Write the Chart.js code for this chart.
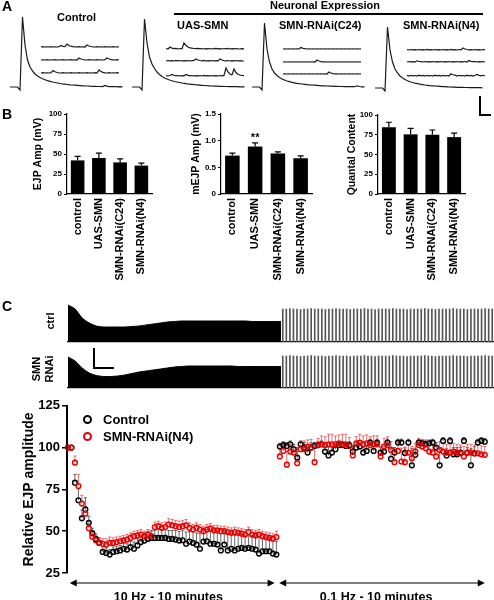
<!DOCTYPE html>
<html>
<head>
<meta charset="utf-8">
<script src="https://cdn.jsdelivr.net/npm/chart.js@4.4.1/dist/chart.umd.min.js"></script>
<style>
  body { margin: 0; background: #fff; }
  #fig { position: relative; width: 494px; height: 600px; overflow: hidden;
         font-family: "Liberation Sans", Arial, sans-serif; font-weight: bold; color: #000; }
  #fig canvas, .t, .ln, .dot { position: absolute; }
  .t { white-space: nowrap; line-height: 1; }
  .ln { background: #000; }
  .dot { width: 9px; height: 9px; box-sizing: border-box; border: 2px solid #000; border-radius: 50%; }
</style>
</head>
<body>
<div id="fig">
  <div class="t" style="left:2px;top:-1px;font-size:14px">A</div>
  <div class="t" style="left:57px;top:12px;font-size:11px">Control</div>
  <div class="t" style="left:270px;top:0px;font-size:11px">Neuronal Expression</div>
  <div class="ln" style="left:174px;top:13px;width:309px;height:2px"></div>
  <div class="t" style="left:177px;top:20px;font-size:11px">UAS-SMN</div>
  <div class="t" style="left:279px;top:20px;font-size:11px">SMN-RNAi(C24)</div>
  <div class="t" style="left:403px;top:20px;font-size:11px">SMN-RNAi(N4)</div>
  <div class="ln" style="left:479px;top:96px;width:1.5px;height:19px"></div>
  <div class="ln" style="left:479px;top:114px;width:12px;height:1.5px"></div>

  <div class="t" style="left:2px;top:107px;font-size:14px">B</div>
  <div class="t" style="left:2px;top:299px;font-size:14px">C</div>
  <div class="ln" style="left:93px;top:348px;width:1.5px;height:20px"></div>
  <div class="ln" style="left:93px;top:367px;width:21px;height:1.5px"></div>

  <div class="dot" style="left:82.5px;top:414.5px"></div>
  <div class="t" style="left:103px;top:412.5px;font-size:13px">Control</div>
  <div class="dot" style="left:82.5px;top:431.5px;border-color:#e60000"></div>
  <div class="t" style="left:103px;top:429.5px;font-size:13px">SMN-RNAi(N4)</div>
</div>
<script>
// ---- A: example traces (baseline = 0, roughly px) ----
const ejpControl = [0,0,0,0,-3,70,42,27,20,16,13,11,9.5,8.2,7.2,6.4,5.7,5,4.5,4,3.5,3.1,2.8,2.5,2.2,2,1.8,1.6,1.4,1.2,1,1,0.8,0.7,0.6,0.5,0.5,0.4,1.5,0.6,0.3,0.3,0.5,0.2,0.3,0.2];
const ejpUas = [0,0,0,0,-3,68,44,30,23,18.5,15,12.5,10.5,9,8,7,6.2,5.5,5,4.5,4,3.6,3.2,2.9,2.6,2.3,2.1,1.9,1.7,1.5,1.3,1.2,1,0.9,0.8,0.7,0.6,0.5,0.5,0.4,0.4,0.3,0.3,0.2,0.2,0.2];
const ejpC24 = [0,0,0,0,-3,64,38,25,18,14,11.5,9.5,8,7,6,5.3,4.7,4.2,3.7,3.3,3,2.7,2.4,2.2,2,1.8,1.6,1.4,1.2,1.1,1,0.9,0.8,0.7,0.6,0.5,0.5,0.4,0.4,0.3,0.3,0.3,1.2,0.5,0.2,0.2];
const ejpN4 = [0,0,0,0,-3,61,38,26,19,15,12,10,8.5,7.3,6.3,5.5,4.8,4.3,3.8,3.4,3,2.7,2.4,2.2,2,1.8,1.6,1.4,1.3,1.2,1,0.9,0.8,0.7,0.6,0.6,0.5,0.5,0.4,0.4,0.3,0.3,0.3,0.2];

const minisControl = [
  [0,0.3,0,0.2,0,0.3,0,0.2,0,0.3,1.5,0.6,0.3,3,1.5,0.8,0.4,0.2,0,0.3,0,0.2,0,2,1,0.5,0.2,0,0.3,0,0.2,0,0.3,0,0.2,0,0.3,0,0.2,0],
  [0,0.2,0,0.3,0,0.2,0,0.3,0,0.2,0,0.3,0,0.2,0,0.3,0,0.2,0,2,1,0.5,0.2,0,0.3,0,0.2,0,0.3,0,0.2,0,0.3,2,1,0.4,0.2,0,0.3,0],
  [0,0.3,0,0.2,0,0.3,2.5,1.2,0.5,0.2,0,0.3,0,0.2,0,0.3,0,0.2,0,0.3,0,0.2,0,0.3,0,0.2,0,0.3,0,3,1.4,0.6,0.2,0,0.3,0,0.2,0,0.3,0]
];
const minisUas = [
  [0.5,0,2,0.8,0.3,0.6,0,0.5,0.2,6,3.5,2,1.2,0.8,0.5,0.3,0.6,0.2,0.5,0,0.4,0.1,0.5,0,0.3,0.6,0.1,0.4,0,0.5,0.2,0.6,0,0.4,0.1,0.5,0.2,0,0.4,0.1],
  [0,0.5,0.1,0.4,0,0.6,0.2,0.5,0,0.4,0.1,0.5,0,0.3,0.6,2,1,0.5,0.2,0.6,0,0.4,0.1,0.5,0,0.3,0.1,2,1,0.4,0.1,0.5,0,0.4,0.2,0.5,0,0.3,0.1,0],
  [0.3,0,0.5,1.5,0.7,0.2,0.5,0,0.4,0.2,1.5,0.6,0.2,0.5,0,0.4,0.1,0.5,0,0.6,0.2,0.4,0,0.5,0.1,0.4,0,0.5,0.2,0.6,8,4,2,1,7,3.5,1.8,1,0.5,0.3]
];
const minisC24 = [
  [0,0.2,0,0.2,0,0.2,0,0.2,0,1.5,0.7,0.3,0,0.2,0,0.2,0,0.2,0,0.2,0,0.2,0,0.2,0,0.2,0,0.2,0,0.2,0,0.2,0,0.2,0,0.2,0,0.2,0,0.2],
  [0,0.2,0,0.2,0,0.2,0,0.2,0,0.2,0,0.2,0,0.2,0,0.2,0,2,1,0.4,0.1,0.2,0,0.2,0,0.2,0,0.2,0,0.2,0,0.2,0,0.2,0,0.2,0,0.2,0,0.2],
  [0,0.2,0,0.2,0,0.2,0,0.2,0,0.2,0,0.2,0,0.2,0,0.2,0,0.2,0,0.2,0,0.2,0,2,1,0.4,0.1,0.2,0,0.2,0,0.2,0,0.2,0,0.2,0,0.2,0,0.2]
];
const minisN4 = [
  [0.4,0,0.5,0.1,0.4,0,0.5,0.2,0.4,0,0.6,0.1,0.4,0,0.5,0.2,0.4,0,0.5,0.1,0.4,0,0.6,0.2,0.4,0,0.5,0.1,2,1,0.5,0.1,0.4,0,0.5,0.2,0.4,0,0.5,0.1],
  [0,0.5,0.1,0.4,0,1.2,0.5,0.4,0,0.5,0.1,0.4,0.2,0.5,0,0.4,0.1,0.5,0,0.4,0.2,0.5,0,0.4,0.1,0.5,0,0.4,0.2,0.5,0,1.5,0.6,0.3,0.5,0,0.4,0.1,0.5,0],
  [0.6,0,0.7,0.2,0.5,0,0.8,0.1,0.6,0,0.7,0.2,0.5,0,0.8,0.1,0.6,0,0.7,0.2,0.5,0,2.2,1.2,0.8,0,0.7,0.2,0.5,0,0.8,0.1,0.6,0,0.7,1.5,0.6,0.1,0.7,0]
];

// ---- B: bar summaries ----
const groups = ['control', 'UAS-SMN', 'SMN-RNAi(C24)', 'SMN-RNAi(N4)'];
const ejpAmp = [42, 45, 39.5, 35.5];
const ejpAmpErr = [5, 6, 4.5, 3.2];
const mejpAmp = [0.72, 0.89, 0.76, 0.67];
const mejpAmpErr = [0.045, 0.07, 0.03, 0.045];
const mejpMarks = ['', '**', '', ''];
const quantal = [84.5, 75.5, 75, 72];
const quantalErr = [6.3, 7.6, 6, 5];

// ---- C: raw recordings (10 Hz envelope every 20 s, then one EJP per 10 s) ----
const ctrlEnv = [37,33,24,19,16,15,15,15,15,15.5,16,17,18,19,20,20.5,21,21,21,21,21,21,21,21,21,21,20.5,20.5,20.5,20.5,20.5];
const smnEnv = [31,27,20,15,12.5,11.5,11.5,12,13,14.5,16,17,18,19,20,21,21.5,22,22,22,22,22,22,22,21.5,21.5,21.5,21.5,21.5,21.5,21.5];
const ctrlSpikes = [33,33,33.5,33,33,32.5,33,33,33.5,33,33,33,32.5,33,33,33.5,33,33,33,32.5,33,33,33,33.5,33,33,32.5,33,33,33,33,33.5,33,33,33,32.5,33,33,33,33,33.5,33,33,32.5,33,33,33,33,33.5,33,33,33,32.5,33,33,33,33,33.5,33,33];
const smnSpikes = [32,32,32.5,32,32,31.5,32,32,32.5,32,32,32,31.5,32,32,32.5,32,32,32,31.5,32,32,32,32.5,32,32,31.5,32,32,32,32,32.5,32,32,32,31.5,32,32,32,32,32.5,32,32,31.5,32,32,32,32,32.5,32,32,32,31.5,32,32,32,32,32.5,32,32];

// ---- C: relative EJP amplitude, 10 Hz (every 10 s, 0..600 s) then 0.1 Hz ----
const ctrlFast = [100,100,79,68.5,57.7,63,55,48.8,45.4,43,37.6,37,36,37.6,38,38.5,39.5,39,40.5,39.5,41.5,43.5,44.4,45.4,46,46,46,46,46,45.4,45.4,45,44.4,44.6,42.5,43.8,43,42,39.5,43.8,44,42.5,42.5,42,38.5,42,38.5,39.5,38.5,39.5,40,39.5,40,39.5,39,36.6,38,38,38,36.6,36];
const ctrlFastErr = [0,0,5,7,5,7,4,3,3,3,3,3,3,3,3,3,3.5,3.5,3.5,4,4,4,4.5,4.5,4.5,4.5,5,5,5,5,5,5.5,5.5,6,7,6,7,7,9,7,7,8,8,8,10,8,10,9,9,9,8,8,8,8,8,10,8,8,8,8,8];
const smnFast = [100,100,91,77,66.5,60.5,51.7,46.7,44.6,43,42.5,42,43,43,43.5,44,44.5,45,46,47,47.5,48,47,48,47,52.5,53,52,52.5,54,53.5,53,52.5,53,53.5,52,51,52,51,50,51,51.5,50.5,50.5,50,50,49.5,49,49.5,49,48.5,48,49.5,48,47.5,48,47,46.5,46,45.5,46.5];
const smnFastErr = [0,0,4,7,5,4,3,2.5,3,3,3,3.5,3.5,3,3,3,3,3,3,3,3,3,3,3,3,3,3,3,3,3.5,3.5,3.5,3.5,3.5,3.5,3,3,3,3,3,3,3,3,3,3,3,3,3,3,3,3,3,3,3,3,3,3,3,3,3,3.5];
const ctrlSlow = [100.6,101.5,101,102,99,94,102,100,97,100,101,101.5,102,97.6,95.3,97,99,101.5,101.5,101,101.5,97.6,100,100.6,97,98,103,98,103,97,97.6,103,93.3,97,103,103,96.8,103,89.4,95.7,103,102.6,102,102.6,103,100,89.4,104,95.3,104,96,96,97,104,97,89.4,96.6,103,104,103.5];
const ctrlSlowErr = [2,2,2,2,3,6,2,3,3,3,2,2,2,3,5,3,3,2,2,2,2,3,3,2,3,3,2,3,2,3,3,2,6,3,2,2,3,2,10,4,2,2,2,2,2,3,10,2,4,2,4,4,3,2,3,10,4,2,2,2];
const smnSlow = [94.7,98,89.8,97.6,97,90.7,99,99,100.6,100,91.3,101.5,102,101.5,102,102,102,102.6,102,102,101,95.3,102.6,103,102,102.6,101.5,102,102,94.7,100.6,101.5,98.6,91.3,98,91.7,91.3,97,93.7,97.6,101.5,100.6,99.6,97.6,97,94.7,98.6,97.6,97,97,97.6,97,96.6,94.7,97,97,96.6,96.6,96,95.7];
const smnSlowErr = [5,4,8,4,5,7,4,5,4,5,9,4,5,5,6,6,5,5,6,6,5,6,4,5,5,5,5,5,5,6,5,5,5,8,5,8,9,5,7,5,4,4,5,5,5,6,5,5,5,5,5,5,5,6,5,5,5,5,5,5];
const periodLabels = ['10 Hz - 10 minutes', '0.1 Hz - 10 minutes'];
const periodTicks = [289, 887];
const periodRanges = [[5, 595], [608, 1200]];

Chart.defaults.font.family = '"Liberation Sans", Arial, sans-serif';
Chart.defaults.font.weight = 'bold';
Chart.defaults.color = '#000';
Chart.defaults.animation = false;
Chart.defaults.events = [];
Chart.defaults.plugins.legend.display = false;
Chart.defaults.plugins.tooltip.enabled = false;

const fig = document.getElementById('fig');
function makeCanvas(left, top, w, h) {
  const c = document.createElement('canvas');
  c.width = w; c.height = h;
  c.style.left = left + 'px'; c.style.top = top + 'px';
  c.style.width = w + 'px'; c.style.height = h + 'px';
  fig.insertBefore(c, fig.firstChild);
  return c;
}

function drawErrors(chart, phase) {
  const ctx = chart.ctx;
  chart.data.datasets.forEach((ds, di) => {
    if (!ds.errors || (ds.errorPhase || 'after') !== phase) return;
    const meta = chart.getDatasetMeta(di);
    const ys = chart.scales[meta.yAxisID];
    ctx.save();
    ctx.strokeStyle = ds.errorColor || '#000';
    ctx.lineWidth = ds.errorWidth || 1;
    meta.data.forEach((el, i) => {
      const e = ds.errors[i];
      if (!e) return;
      const v = meta.controller.getParsed(i).y;
      const x = el.x;
      const y0 = ys.getPixelForValue(v), y1 = ys.getPixelForValue(v + e);
      ctx.beginPath();
      ctx.moveTo(x, y0); ctx.lineTo(x, y1);
      ctx.moveTo(x - ds.errorCap, y1); ctx.lineTo(x + ds.errorCap, y1);
      ctx.stroke();
      if (ds.marks && ds.marks[i]) {
        ctx.fillStyle = '#000';
        ctx.font = 'bold 11px "Liberation Sans", Arial, sans-serif';
        ctx.textAlign = 'center';
        ctx.fillText(ds.marks[i], x, y1 - 2);
      }
    });
    ctx.restore();
  });
}
const errorBars = {
  id: 'errorBars',
  beforeDatasetsDraw(chart) { drawErrors(chart, 'before'); },
  afterDatasetsDraw(chart) { drawErrors(chart, 'after'); }
};

// ---- panel A ----
const aLayout = [
  { left: 8,   width: 120, ejpX: 10,  base: 87, miniX: 41,  miniBase: [47, 60, 73] },
  { left: 130, width: 120, ejpX: 132, base: 87, miniX: 166, miniBase: [49, 61, 76] },
  { left: 250, width: 120, ejpX: 252, base: 87, miniX: 283, miniBase: [49, 62, 74] },
  { left: 373, width: 121, ejpX: 375, base: 88, miniX: 407, miniBase: [50, 62, 76] }
];
const aEjps = [ejpControl, ejpUas, ejpC24, ejpN4];
const aMinis = [minisControl, minisUas, minisC24, minisN4];
const aTop = 10, aH = 84;

aLayout.forEach((p, g) => {
  const c = makeCanvas(p.left, aTop, p.width, aH);
  const line = { showLine: true, pointRadius: 0, borderColor: '#1a1a1a', borderWidth: 1.2, clip: false };
  const datasets = [Object.assign({ data: aEjps[g].map((v, i) => ({ x: i, y: v })), xAxisID: 'x', yAxisID: 'y' }, line)];
  const scales = {
    x: { type: 'linear', display: false, min: -(p.ejpX - p.left) / 2.5, max: -(p.ejpX - p.left) / 2.5 + p.width / 2.5 },
    xm: { type: 'linear', axis: 'x', display: false, min: -(p.miniX - p.left) / 2, max: -(p.miniX - p.left) / 2 + p.width / 2 },
    y: { type: 'linear', display: false, max: p.base - aTop, min: p.base - aTop - aH }
  };
  aMinis[g].forEach((m, j) => {
    const id = 'y' + (j + 1);
    datasets.push(Object.assign({ data: m.map((v, i) => ({ x: i, y: v })), xAxisID: 'xm', yAxisID: id }, line));
    scales[id] = { type: 'linear', axis: 'y', display: false, max: p.miniBase[j] - aTop, min: p.miniBase[j] - aTop - aH };
  });
  new Chart(c, { type: 'scatter', data: { datasets }, options: { responsive: false, layout: { padding: 0 }, scales } });
});

// ---- panel B ----
function barChart(left, top, w, h, pad, yWidth, xHeight, titleOffset, title, values, errors, yMax, yStep, marks) {
  const c = makeCanvas(left, top, w, h);
  new Chart(c, {
    type: 'bar',
    data: {
      labels: groups,
      datasets: [{
        data: values, backgroundColor: '#000', barPercentage: 0.64, categoryPercentage: 1,
        errors: errors, errorCap: 3, errorWidth: 1.2, marks: marks
      }]
    },
    options: {
      responsive: false,
      layout: { padding: { top: pad.top, right: pad.right, left: 0, bottom: 0 } },
      scales: {
        x: {
          grid: { display: false, drawTicks: false },
          border: { color: '#000', width: 1.2 },
          ticks: { font: { size: 11, weight: 'bold' }, maxRotation: 90, minRotation: 90, padding: 4, autoSkip: false },
          afterFit: (s) => { s.height = xHeight; }
        },
        y: {
          min: 0, max: yMax,
          ticks: { stepSize: yStep, font: { size: 8, weight: 'bold' }, padding: 2 },
          grid: { drawOnChartArea: false, tickLength: 3, color: '#000' },
          border: { color: '#000', width: 1.2 },
          title: { display: true, text: title, font: { size: 10.5, weight: 'bold' }, padding: { top: titleOffset, bottom: 0 } },
          afterFit: (s) => { s.width = yWidth; }
        }
      }
    },
    plugins: [errorBars]
  });
}
barChart(0, 104, 160, 196, { top: 10, right: 8 }, 67, 106, 31.7, 'EJP Amp (mV)', ejpAmp, ejpAmpErr, 100, 25);
barChart(160, 104, 160, 196, { top: 10, right: 8 }, 61, 106, 29.7, 'mEJP Amp (mV)', mejpAmp, mejpAmpErr, 1.5, 0.5, mejpMarks);
barChart(320, 104, 174, 196, { top: 11, right: 29 }, 58, 106, 26.2, 'Quantal Content', quantal, quantalErr, 100, 25);

// ---- panel C raw traces ----
function rawTrace(top, h, yMax, env, spikes, title, titlePad) {
  const c = makeCanvas(0, top, 494, h);
  new Chart(c, {
    type: 'bar',
    data: {
      datasets: [
        { type: 'line', data: env.map((v, i) => ({ x: i * 20, y: v })), borderColor: '#000', borderWidth: 1,
          backgroundColor: '#000', fill: 'origin', pointRadius: 0, tension: 0.3 },
        { data: spikes.map((v, i) => ({ x: 605 + i * 10, y: v })), backgroundColor: '#555', barThickness: 1 }
      ]
    },
    options: {
      responsive: false,
      layout: { padding: 0 },
      scales: {
        x: { type: 'linear', min: 0, max: 1200, offset: false,
             grid: { display: false, drawTicks: false }, ticks: { display: false },
             border: { display: true, color: '#000', width: 1.2 },
             afterFit: (s) => { s.height = 2; } },
        y: { min: 0, max: yMax, grid: { display: false, drawTicks: false }, ticks: { display: false },
             border: { display: false },
             title: { display: true, text: title, font: { size: 11, weight: 'bold' }, padding: { top: titlePad, bottom: 0 } },
             afterFit: (s) => { s.width = 68; } }
      }
    }
  });
}
rawTrace(300, 44, 42, ctrlEnv, ctrlSpikes, 'ctrl', 44.4);
rawTrace(350, 40, 38, smnEnv, smnSpikes, ['SMN', 'RNAi'], 30.4);

// ---- panel C summary ----
const arrows = {
  id: 'arrows',
  afterDraw(chart) {
    const ctx = chart.ctx, xs = chart.scales.x;
    const y = chart.chartArea.bottom + 10;
    ctx.save();
    ctx.strokeStyle = '#000'; ctx.fillStyle = '#000'; ctx.lineWidth = 1.2;
    periodRanges.forEach(([a, b]) => {
      const x0 = xs.getPixelForValue(a), x1 = xs.getPixelForValue(b);
      ctx.beginPath(); ctx.moveTo(x0 + 2, y); ctx.lineTo(x1 - 2, y); ctx.stroke();
      ctx.beginPath(); ctx.moveTo(x0, y); ctx.lineTo(x0 + 7, y - 3.5); ctx.lineTo(x0 + 7, y + 3.5); ctx.closePath(); ctx.fill();
      ctx.beginPath(); ctx.moveTo(x1, y); ctx.lineTo(x1 - 7, y - 3.5); ctx.lineTo(x1 - 7, y + 3.5); ctx.closePath(); ctx.fill();
    });
    ctx.restore();
  }
};
function series(fast, slow) {
  return fast.map((v, i) => ({ x: i * 10, y: v })).concat(slow.map((v, k) => ({ x: 610 + k * 10, y: v })));
}
const mainCanvas = makeCanvas(0, 396, 494, 204);
new Chart(mainCanvas, {
  type: 'scatter',
  data: {
    datasets: [
      { label: 'Control', data: series(ctrlFast, ctrlSlow), order: 2,
        pointRadius: 2.4, pointBorderWidth: 1.4, borderColor: '#000', backgroundColor: 'rgba(0,0,0,0)', clip: false,
        errors: ctrlFastErr.concat(ctrlSlowErr), errorPhase: 'before', errorCap: 1.6, errorWidth: 0.8, errorColor: '#444' },
      { label: 'SMN-RNAi(N4)', data: series(smnFast, smnSlow), order: 1,
        pointRadius: 2.4, pointBorderWidth: 1.4, borderColor: '#e60000', backgroundColor: 'rgba(0,0,0,0)', clip: false,
        errors: smnFastErr.concat(smnSlowErr), errorPhase: 'before', errorCap: 1.6, errorWidth: 0.8, errorColor: '#e84a4a' }
    ]
  },
  options: {
    responsive: false,
    layout: { padding: { top: 8, right: 0, left: 0, bottom: 0 } },
    scales: {
      x: {
        type: 'linear', min: -2.84, max: 1211,
        grid: { display: false, drawTicks: false }, border: { display: false },
        afterBuildTicks: (s) => { s.ticks = periodTicks.map(v => ({ value: v })); },
        ticks: { callback: (v, i) => periodLabels[i], autoSkip: false, maxRotation: 0, minRotation: 0,
                 padding: 17, font: { size: 12.5, weight: 'bold' } },
        afterFit: (s) => { s.height = 27; }
      },
      y: {
        min: 25, max: 125,
        ticks: { stepSize: 25, padding: 2, font: { size: 13, weight: 'bold' } },
        grid: { drawOnChartArea: false, tickLength: 5, color: '#000', lineWidth: 1.5 },
        border: { color: '#000', width: 2 },
        title: { display: true, text: 'Relative EJP amplitude', font: { size: 14, weight: 'bold' }, padding: { top: 20.6, bottom: 0 } },
        afterFit: (s) => { s.width = 67; }
      }
    }
  },
  plugins: [errorBars, arrows]
});
</script>
</body>
</html>
